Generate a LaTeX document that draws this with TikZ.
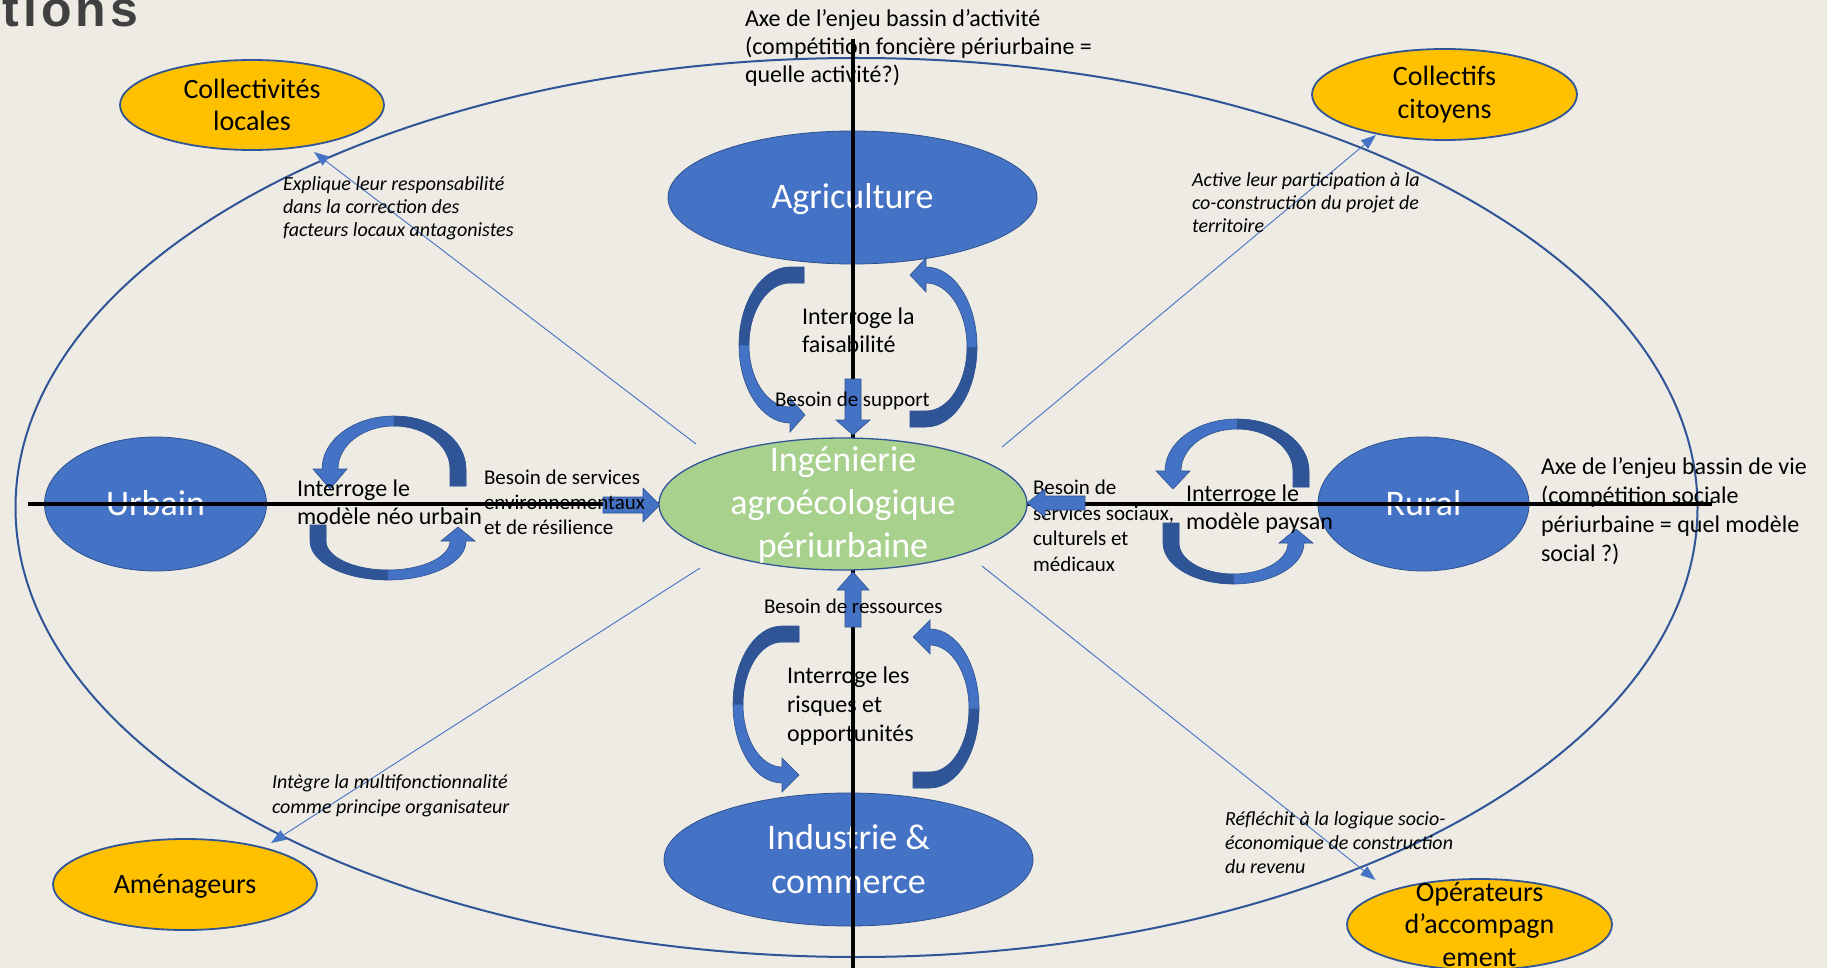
\documentclass[tikz,border=0pt]{standalone}
\usepackage{fontspec}
\setmainfont{Carlito}
\newfontfamily\titlefont[LetterSpace=8]{Liberation Sans}
\usetikzlibrary{shapes.geometric,arrows.meta}
\definecolor{bgc}{RGB}{237,235,228}
\definecolor{bfill}{RGB}{68,114,196}
\definecolor{bline}{RGB}{47,82,143}
\definecolor{ring}{RGB}{47,85,151}
\definecolor{gfill}{RGB}{169,209,142}
\definecolor{yfill}{RGB}{255,192,0}
\definecolor{cdark}{RGB}{47,85,151}
\definecolor{titlegray}{RGB}{64,64,64}
% circular arrow: #1 cx, #2 cy, #3 rotation, #4 Rx, #5 Ry, #6 tail extension, #7 head length
\newcommand{\circarr}[7]{%
 \begin{scope}[shift={(#1,#2)},rotate=#3]
  \filldraw[fill=bfill,draw=bline,line width=0.6pt] (#4,#6) -- (#4,0)
    arc[start angle=0,end angle=-180,x radius=#4,y radius=#5] -- ++(-9,0)
    -- ({-#4+8},#7) -- ({-#4+25},0) -- ({-#4+16},0)
    arc[start angle=-180,end angle=0,x radius={#4-16},y radius={#5-10}]
    -- ({#4-16},#6) -- cycle;
  \fill[cdark] (#4,#6) -- (#4,0)
    arc[start angle=0,end angle=-90,x radius=#4,y radius=#5]
    -- (0,{-#5+10})
    arc[start angle=-90,end angle=0,x radius={#4-16},y radius={#5-10}]
    -- ({#4-16},#6) -- cycle;
 \end{scope}}
\begin{document}
\begin{tikzpicture}[x=1pt,y=-1pt,
  every node/.style={inner sep=0pt,outer sep=0pt},
  bluell/.style={ellipse,fill=bfill,draw=bline,line width=0.8pt},
  yell/.style={ellipse,fill=yfill,draw=ring,line width=1.8pt},
  gell/.style={ellipse,fill=gfill,draw=ring,line width=1.3pt},
  wtxt/.style={text=white,align=center,font=\fontsize{36}{44}\selectfont},
  gtxt/.style={text=white,align=center,font=\fontsize{36}{43}\selectfont},
  ytxt/.style={align=center,font=\fontsize{28}{32.5}\selectfont},
  lbl/.style={align=left,anchor=base west},
  axe/.style={line width=4pt,black},
  barrow/.style={fill=bfill,draw=bline,line width=0.6pt},
  thinarr/.style={draw=bfill,line width=0.9pt,-{Triangle[length=15pt,width=11pt]}}]
\useasboundingbox (0,0) rectangle (1827,968);
\fill[bgc] (0,0) rectangle (1827,968);

% title fragment
\node[anchor=base east,text=titlegray,font=\titlefont\bfseries\fontsize{50}{60}\selectfont] (title) at (138,27) {tions};

% outer ring
\node[ellipse,draw=ring,line width=2pt,minimum width=1682pt,minimum height=899pt] (ring) at (856.5,507.5) {};

% thin connectors
\coordinate (s1) at (696,444); \coordinate (t1) at (314,152);
\coordinate (s2) at (1002,447); \coordinate (t2) at (1376,135);
\coordinate (s3) at (700,568); \coordinate (t3) at (271,843);
\coordinate (s4) at (982,566); \coordinate (t4) at (1375.5,880);
\draw[thinarr] (s1) -- (t1);
\draw[thinarr] (s2) -- (t2);
\draw[thinarr] (s3) -- (t3);
\draw[thinarr] (s4) -- (t4);

% blue ellipses
\node[bluell,minimum width=369pt,minimum height=133pt] (agri) at (852.5,197.5) {};
\node[bluell,minimum width=369pt,minimum height=133pt] (indu) at (848.5,859.5) {};
\node[bluell,minimum width=222pt,minimum height=134pt] (urb) at (155.5,504) {};
\node[bluell,minimum width=211pt,minimum height=134pt] (rur) at (1423.5,504) {};

% yellow ellipses
\node[yell,minimum width=264pt,minimum height=90pt] (cl) at (252,105) {};
\node[yell,minimum width=265pt,minimum height=91pt] (cc) at (1444.5,94.5) {};
\node[yell,minimum width=264pt,minimum height=91pt] (am) at (185,884.5) {};
\node[yell,minimum width=265pt,minimum height=91pt] (op) at (1479.5,924.5) {};
\node[ytxt] (cl-t) at (cl) {Collectivités\\locales};
\node[ytxt] (cc-t) at (cc) {Collectifs\\citoyens};
\node[ytxt,anchor=base] (am-t) at (185,893) {Aménageurs};
\node[ytxt] (op-t) at (op) {Opérateurs\\d’accompagn\\ement};

% circular arrows
\circarr{790}{345}{90}{78}{51}{14}{15}
\circarr{926}{347}{-90}{80}{51}{16}{16}
\circarr{782}{704.5}{90}{78.5}{49}{17}{17}
\circarr{930}{708.5}{-90}{79.5}{49}{17}{17}
\circarr{394}{469}{0}{72}{53}{17}{20}
\circarr{388}{541}{180}{78}{39}{16}{14}
\circarr{1237}{471}{0}{72}{52}{16}{18}
\circarr{1233.5}{543}{180}{70.5}{41}{20}{14}

% texts of blue ellipses
\node[wtxt,anchor=base] (agri-t) at (852.5,209) {Agriculture};
\node[wtxt] (indu-t) at (indu) {Industrie \&\\commerce};
\node[wtxt,anchor=base] (urb-t) at (155.5,515) {Urbain};
\node[wtxt,anchor=base] (rur-t) at (1423.5,515) {Rural};

% axes
\coordinate (axL) at (28,504); \coordinate (axR) at (1712,504);
\coordinate (axT) at (853,39); \coordinate (axB) at (853,968);
\draw[axe] (axL) -- (axR);
\draw[axe] (axT) -- (axB);

% label left of the west-pointing arrow (under it)
\node[lbl,font=\fontsize{21}{25.5}\selectfont] (bsoc) at (1033,571) {Besoin de\\services sociaux,\\culturels et\\médicaux};

% block arrows
\coordinate (tipS) at (853,435);
\coordinate (tipR) at (853,572);
\coordinate (tipE) at (660,505);
\coordinate (tipW) at (1027,503);
\draw[barrow] (tipS) -- ++(-17,-15) -- ++(9,0) -- ++(0,-41) -- ++(16,0) -- ++(0,41) -- ++(9,0) -- cycle;
\draw[barrow] (tipR) -- ++(-16,18) -- ++(8,0) -- ++(0,37) -- ++(16,0) -- ++(0,-37) -- ++(8,0) -- cycle;
\draw[barrow] (tipE) -- ++(-17,-17) -- ++(0,9) -- ++(-40,0) -- ++(0,16) -- ++(40,0) -- ++(0,9) -- cycle;
\draw[barrow] (tipW) -- ++(18,-14) -- ++(0,7) -- ++(40,0) -- ++(0,14) -- ++(-40,0) -- ++(0,7) -- cycle;

% labels (anchor = baseline of last line)
\node[lbl,font=\fontsize{24}{28}\selectfont] (axetop) at (745,83) {Axe de l’enjeu bassin d’activité\\(compétition foncière périurbaine =\\quelle activité?)};
\node[lbl,font=\fontsize{24}{29}\selectfont] (axeright) at (1541,561) {Axe de l’enjeu bassin de vie\\(compétition sociale\\périurbaine = quel modèle\\social ?)};
\node[lbl,font=\fontsize{24}{28}\selectfont] (intu) at (297,524) {Interroge le\\modèle néo urbain};
\node[lbl,font=\fontsize{21}{25}\selectfont] (benv) at (484,534) {Besoin de services\\environnementaux\\et de résilience};
\node[lbl,font=\fontsize{24}{28}\selectfont] (intr) at (1186,529) {Interroge le\\modèle paysan};
\node[lbl,font=\fontsize{24}{28}\selectfont] (inta) at (802,352) {Interroge la\\faisabilité};
\node[lbl,font=\fontsize{21}{24}\selectfont] (bsup) at (775,406) {Besoin de support};
\node[lbl,font=\fontsize{21}{24}\selectfont] (bres) at (764,613) {Besoin de ressources};
\node[lbl,font=\fontsize{24}{29}\selectfont] (inti) at (787,741) {Interroge les\\risques et\\opportunités};
\node[lbl,font=\itshape\fontsize{20}{23.5}\selectfont] (itcl) at (283,237) {Explique leur responsabilité\\dans la correction des\\facteurs locaux antagonistes};
\node[lbl,font=\itshape\fontsize{20}{23}\selectfont] (itcc) at (1192,233) {Active leur participation à la\\co-construction du projet de\\territoire};
\node[lbl,font=\itshape\fontsize{20}{24.5}\selectfont] (itam) at (272,813) {Intègre la multifonctionnalité\\comme principe organisateur};
\node[lbl,font=\itshape\fontsize{20}{24}\selectfont] (itop) at (1225,873) {Réfléchit à la logique socio-\\économique de construction\\du revenu};

% central green ellipse
\node[gell,minimum width=368pt,minimum height=132pt] (gr) at (843,504) {};
\node[gtxt] (gr-t) at (843,505) {Ingénierie\\agroécologique\\périurbaine};
\end{tikzpicture}
\end{document}
